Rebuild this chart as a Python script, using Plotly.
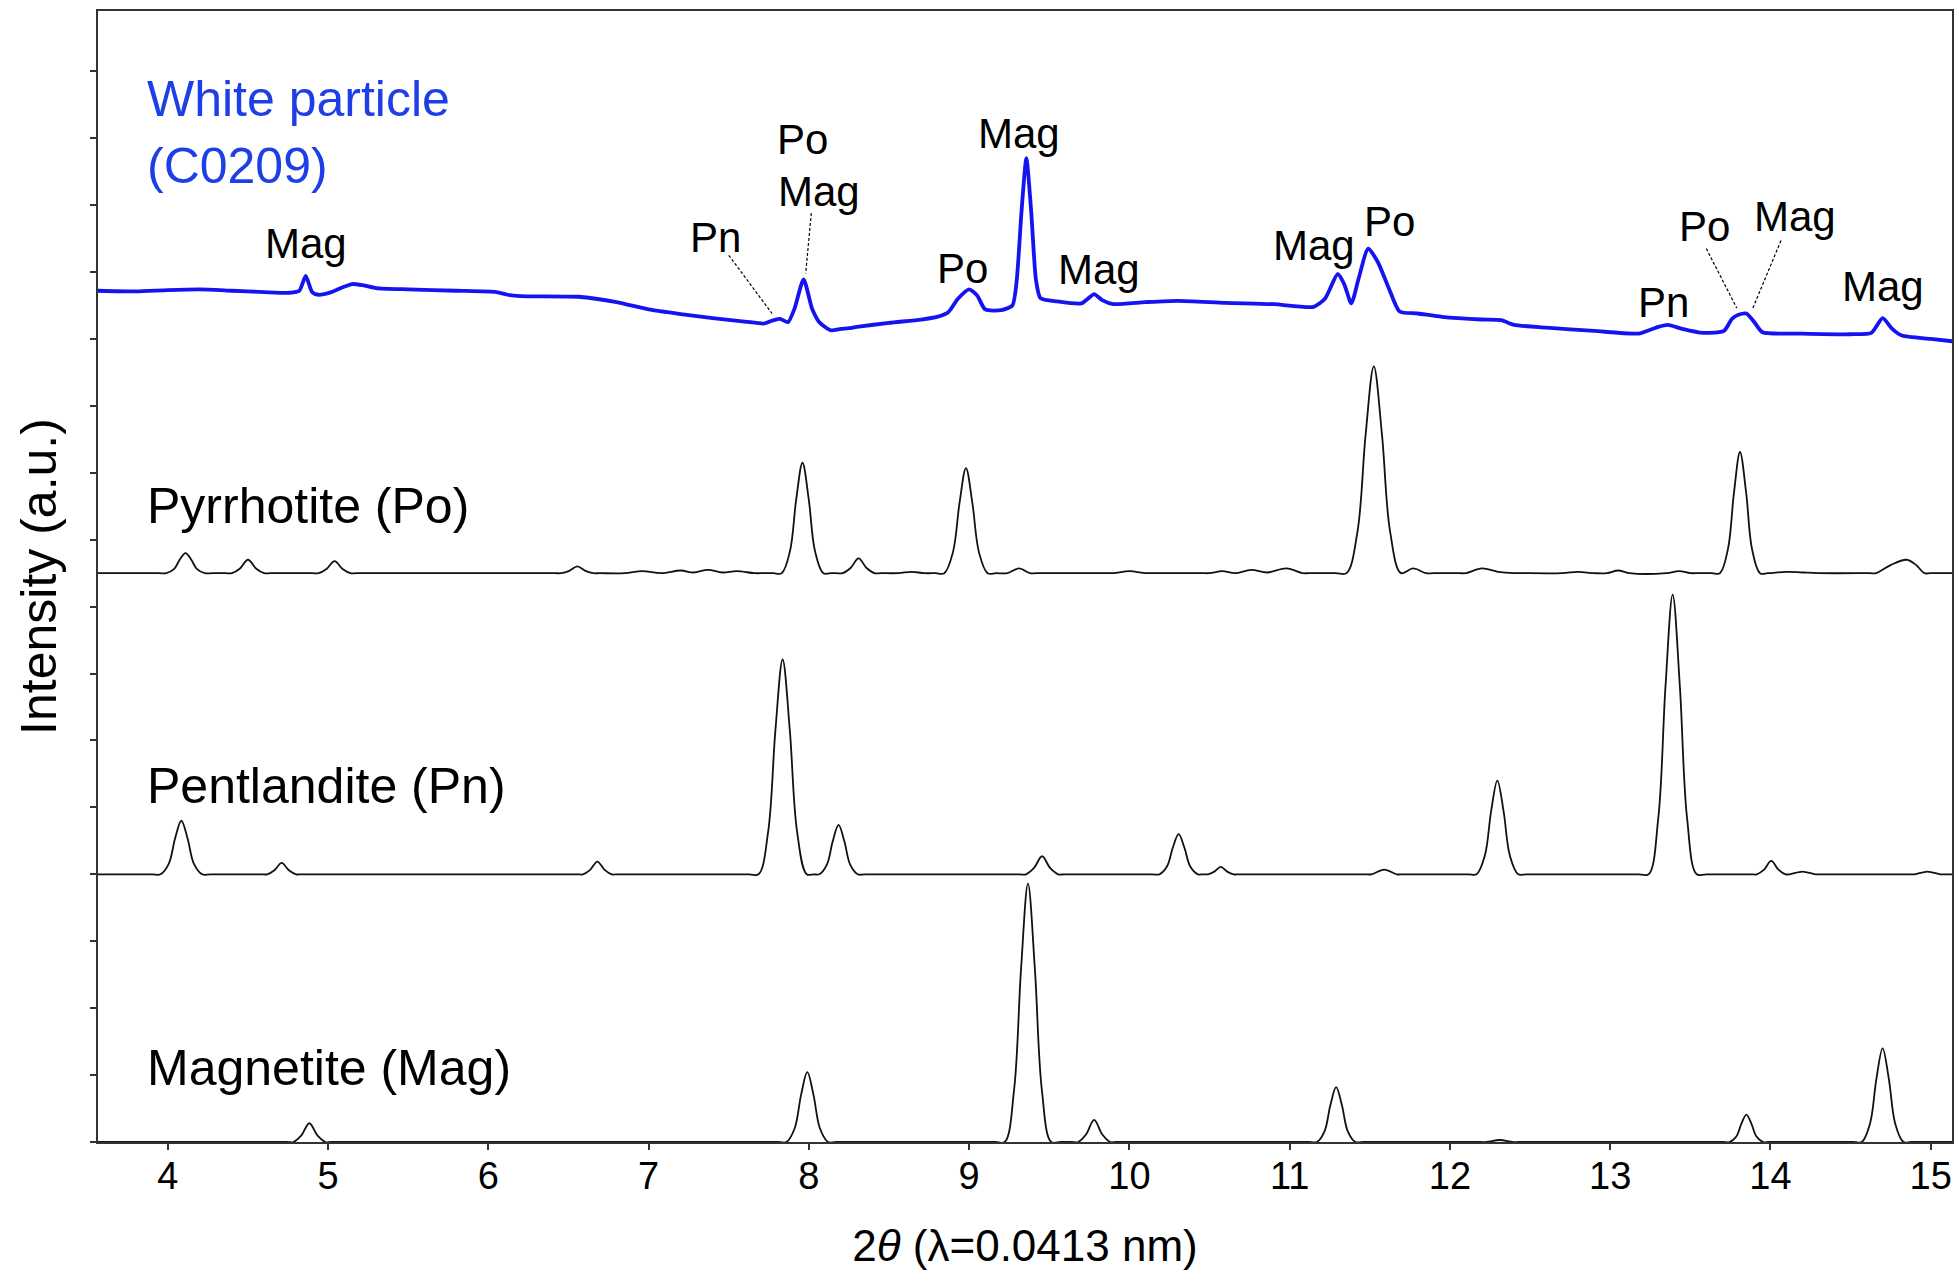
import plotly.graph_objects as go

# ---------------- data ----------------
# 2theta values and intensities (tick units above each pattern's own baseline)

white_x = [3.563, 3.8, 4.0, 4.2, 4.4, 4.6, 4.76, 4.82, 4.86, 4.90, 4.94, 5.02, 5.08, 5.15, 5.22, 5.3, 5.5, 5.8,
           6.05, 6.12, 6.2, 6.56, 6.8, 7.0, 7.2, 7.4, 7.6, 7.72, 7.78, 7.82, 7.87, 7.91, 7.967, 8.02, 8.065, 8.135,
           8.2, 8.25, 8.3, 8.5, 8.7, 8.8, 8.87, 8.93, 9.0, 9.05, 9.10, 9.2, 9.27, 9.297, 9.327, 9.357, 9.387, 9.417,
           9.445, 9.55, 9.70, 9.74, 9.78, 9.83, 9.9, 10.1, 10.3, 10.6, 10.9, 11.15, 11.22, 11.30, 11.34, 11.385,
           11.43, 11.49, 11.55, 11.62, 11.686, 11.8, 11.95, 12.2, 12.32, 12.4, 12.6, 12.9, 13.18, 13.3, 13.36,
           13.45, 13.58, 13.71, 13.76, 13.80, 13.85, 13.9, 13.95, 14.2, 14.5, 14.63, 14.70, 14.76, 14.82, 15.0,
           15.155]
white_y = [0.72, 0.71, 0.73, 0.74, 0.72, 0.70, 0.69, 0.72, 0.94, 0.70, 0.66, 0.70, 0.76, 0.82, 0.80, 0.76, 0.74,
           0.72, 0.70, 0.66, 0.64, 0.63, 0.55, 0.44, 0.37, 0.31, 0.26, 0.23, 0.28, 0.30, 0.25, 0.45, 0.89, 0.45,
           0.25, 0.13, 0.15, 0.16, 0.18, 0.24, 0.29, 0.33, 0.40, 0.60, 0.74, 0.65, 0.44, 0.43, 0.50, 0.88, 1.91,
           2.70, 1.91, 0.88, 0.61, 0.56, 0.53, 0.60, 0.67, 0.58, 0.52, 0.55, 0.57, 0.54, 0.52, 0.48, 0.60, 0.97,
           0.82, 0.53, 0.90, 1.35, 1.15, 0.75, 0.41, 0.38, 0.33, 0.29, 0.28, 0.21, 0.17, 0.12, 0.08, 0.18, 0.21,
           0.15, 0.09, 0.12, 0.30, 0.36, 0.38, 0.25, 0.10, 0.08, 0.07, 0.09, 0.31, 0.15, 0.05, 0.00, -0.04]

po_x = [3.563,
        3.942, 3.99, 4.038, 4.074, 4.11, 4.146, 4.182, 4.23, 4.278,
        4.36, 4.40, 4.45, 4.50, 4.55, 4.60, 4.64,
        4.90, 4.94, 4.99, 5.04, 5.09, 5.14, 5.18,
        6.415, 6.455, 6.505, 6.555, 6.605, 6.655, 6.695,
        6.85, 6.96, 7.08, 7.20, 7.28, 7.37, 7.46, 7.55, 7.66, 7.72,
        7.778, 7.83, 7.882, 7.921, 7.96, 7.999, 8.038, 8.09, 8.14,
        8.17, 8.21, 8.26, 8.31, 8.36, 8.41, 8.45,
        8.56, 8.64, 8.72,
        8.791, 8.845, 8.899, 8.94, 8.98, 9.02, 9.061, 9.115, 9.169,
        9.24, 9.31, 9.38, 9.42,
        9.86, 9.90, 10.0, 10.1, 10.14,
        10.46, 10.5, 10.58, 10.66, 10.76, 10.86, 10.98, 11.08, 11.12,
        11.287, 11.355, 11.423, 11.474, 11.525, 11.576, 11.627, 11.695,
        11.77, 11.85, 11.9,
        12.06, 12.1, 12.2, 12.3, 12.4, 12.44,
        12.7, 12.8, 12.9, 12.98, 13.05, 13.12, 13.35, 13.43, 13.5, 13.55,
        13.635, 13.685, 13.735, 13.773, 13.81, 13.848, 13.885, 13.935, 13.985,
        14.1, 14.2, 14.3, 14.62, 14.66, 14.75, 14.85, 14.91, 14.96, 15.0, 15.155]
po_y = [0,
        0, 0, 0.06, 0.20, 0.30, 0.20, 0.06, 0, 0,
        0, 0, 0.07, 0.20, 0.07, 0, 0,
        0, 0, 0.063, 0.18, 0.063, 0, 0,
        0, 0, 0.035, 0.10, 0.035, 0, 0,
        0, 0.03, 0, 0.04, 0.01, 0.05, 0.01, 0.03, 0, 0,
        0, 0, 0.33, 1.105, 1.65, 1.105, 0.33, 0, 0,
        0, 0, 0.077, 0.22, 0.077, 0, 0,
        0, 0.02, 0,
        0, 0, 0.314, 1.05, 1.57, 1.05, 0.314, 0, 0,
        0, 0.07, 0, 0,
        0, 0, 0.03, 0, 0,
        0, 0, 0.03, 0, 0.05, 0.01, 0.07, 0, 0,
        0, 0, 0.618, 2.07, 3.09, 2.07, 0.618, 0,
        0.07, 0, 0,
        0, 0, 0.07, 0.02, 0, 0,
        0, 0.02, 0, 0, 0.04, 0, 0, 0.03, 0, 0,
        0, 0, 0.362, 1.213, 1.81, 1.213, 0.362, 0, 0,
        0.02, 0.01, 0, 0, 0, 0.12, 0.20, 0.12, 0, 0, 0]

pn_x = [3.563,
        3.902, 3.954, 4.006, 4.045, 4.084, 4.123, 4.162, 4.214, 4.266,
        4.584, 4.62, 4.665, 4.71, 4.755, 4.80, 4.836,
        6.554, 6.59, 6.635, 6.68, 6.725, 6.77, 6.806,
        7.626, 7.686, 7.746, 7.791, 7.836, 7.881, 7.926, 7.986,
        8.03, 8.065, 8.113, 8.149, 8.185, 8.221, 8.257, 8.305, 8.353,
        9.315, 9.355, 9.405, 9.455, 9.505, 9.555, 9.595,
        10.139, 10.187, 10.235, 10.271, 10.307, 10.343, 10.379, 10.427,
        10.46, 10.49, 10.53, 10.57, 10.61, 10.65, 10.69,
        11.47, 11.51, 11.59, 11.67, 11.71,
        12.114, 12.166, 12.218, 12.257, 12.296, 12.335, 12.374, 12.426, 12.478,
        13.18, 13.24, 13.30, 13.345, 13.39, 13.435, 13.48, 13.54, 13.60,
        13.879, 13.915, 13.96, 14.005, 14.05, 14.095,
        14.12, 14.2, 14.28, 14.31,
        14.87, 14.9, 14.98, 15.06, 15.09, 15.155]
pn_y = [0,
        0, 0, 0.16, 0.536, 0.80, 0.536, 0.16, 0, 0,
        0, 0, 0.06, 0.17, 0.06, 0, 0,
        0, 0, 0.067, 0.19, 0.067, 0, 0,
        0, 0, 0.642, 2.15, 3.21, 2.15, 0.642, 0,
        0, 0, 0.148, 0.496, 0.74, 0.496, 0.148, 0, 0,
        0, 0, 0.095, 0.27, 0.095, 0, 0,
        0, 0, 0.12, 0.40, 0.60, 0.40, 0.12, 0,
        0, 0, 0.04, 0.11, 0.04, 0, 0,
        0, 0, 0.07, 0, 0,
        0, 0, 0.28, 0.94, 1.40, 0.94, 0.28, 0, 0,
        0, 0, 0.836, 2.80, 4.18, 2.80, 0.836, 0, 0,
        0, 0, 0.07, 0.20, 0.07, 0,
        0, 0.04, 0, 0,
        0, 0, 0.04, 0, 0, 0]

mag_x = [3.563,
         4.743, 4.783, 4.833, 4.883, 4.933, 4.983, 5.023,
         7.808, 7.86, 7.912, 7.951, 7.99, 8.029, 8.068, 8.12, 8.172,
         9.164, 9.222, 9.28, 9.324, 9.367, 9.41, 9.454, 9.512, 9.57,
         9.64, 9.68, 9.73, 9.78, 9.83, 9.88, 9.92,
         11.122, 11.17, 11.218, 11.254, 11.29, 11.326, 11.362, 11.41, 11.458,
         12.19, 12.23, 12.31, 12.39, 12.43,
         13.703, 13.745, 13.787, 13.819, 13.85, 13.881, 13.913, 13.955, 13.997,
         14.518, 14.57, 14.622, 14.661, 14.70, 14.739, 14.778, 14.83, 14.882,
         15.155]
mag_y = [0,
         0, 0, 0.098, 0.28, 0.098, 0, 0,
         0, 0, 0.21, 0.70, 1.045, 0.70, 0.21, 0, 0,
         0, 0, 0.77, 2.59, 3.86, 2.59, 0.77, 0, 0,
         0, 0, 0.115, 0.33, 0.115, 0, 0,
         0, 0, 0.164, 0.55, 0.82, 0.55, 0.164, 0, 0,
         0, 0, 0.03, 0, 0,
         0, 0, 0.082, 0.275, 0.41, 0.275, 0.082, 0, 0,
         0, 0, 0.28, 0.94, 1.40, 0.94, 0.28, 0, 0,
         0]

# vertical stacking offsets of each pattern (tick units)
offsets = {"white": 12.0, "po": 8.5, "pn": 4.0, "mag": 0.0}

# peak labels on the measured pattern: text, 2theta, height
peak_text = ["Mag", "Pn", "Po", "Mag", "Po", "Mag", "Mag", "Mag", "Po", "Pn", "Po", "Mag", "Mag"]
peak_lx = [4.86, 7.42, 7.96, 8.06, 8.96, 9.31, 9.81, 11.15, 11.625, 13.33, 13.59, 14.155, 14.70]
peak_ly = [13.42, 13.51, 14.98, 14.21, 13.05, 15.07, 13.03, 13.39, 13.75, 12.55, 13.68, 13.83, 12.78]

# dashed leader lines: (x0, y0, x1, y1)
leaders = [(7.50, 13.25, 7.77, 12.38),
           (8.015, 13.88, 7.98, 12.98),
           (13.60, 13.35, 13.79, 12.46),
           (14.066, 13.47, 13.89, 12.46)]

# pattern names
pattern_text = ["White particle", "(C0209)", "Pyrrhotite (Po)", "Pentlandite (Pn)", "Magnetite (Mag)"]
pattern_ly = [15.58, 14.59, 9.51, 5.32, 1.10]
pattern_color = ["#1f3fe6", "#1f3fe6", "#000000", "#000000", "#000000"]
pattern_lx = 3.855

x_ticks = list(range(4, 16))
x_range = [3.564, 15.133]
y_range = [0, 16.9]

# ---------------- figure ----------------
FONT = "Liberation Sans, Arial, sans-serif"
fig = go.Figure()

fig.add_trace(go.Scatter(
    x=white_x, y=[offsets["white"] + v for v in white_y], mode="lines",
    line=dict(color="#1414f0", width=3.8, shape="spline", smoothing=0.6),
    hoverinfo="skip"))

for xs, ys, key in [(po_x, po_y, "po"), (pn_x, pn_y, "pn"), (mag_x, mag_y, "mag")]:
    fig.add_trace(go.Scatter(
        x=xs, y=[offsets[key] + v for v in ys], mode="lines",
        line=dict(color="#111111", width=1.8, shape="spline", smoothing=1.0),
        hoverinfo="skip"))

annotations = []
for t, x, y in zip(peak_text, peak_lx, peak_ly):
    annotations.append(dict(x=x, y=y, xref="x", yref="y", text=t, showarrow=False,
                            xanchor="center", yanchor="middle",
                            font=dict(family=FONT, size=42, color="#000000")))
for t, y, c in zip(pattern_text, pattern_ly, pattern_color):
    annotations.append(dict(x=pattern_lx, y=y, xref="x", yref="y", text=t, showarrow=False,
                            xanchor="left", yanchor="middle",
                            font=dict(family=FONT, size=50, color=c)))

shapes = []
for x0, y0, x1, y1 in leaders:
    shapes.append(dict(type="line", xref="x", yref="y", x0=x0, y0=y0, x1=x1, y1=y1,
                       line=dict(color="#000000", width=1.2, dash="3px,2px")))

fig.update_layout(
    width=1959, height=1281,
    margin=dict(l=98, r=7, t=11, b=139),
    plot_bgcolor="white", paper_bgcolor="white",
    showlegend=False,
    annotations=annotations,
    shapes=shapes,
    font=dict(family=FONT, color="#000000"),
)

fig.update_xaxes(
    range=x_range, tickmode="array", tickvals=x_ticks, ticktext=[str(v) for v in x_ticks],
    ticks="outside", ticklen=6, tickwidth=1.5, tickcolor="#333333",
    showline=True, linecolor="#333333", linewidth=1.6, mirror=True,
    showgrid=False, zeroline=False,
    tickfont=dict(family=FONT, size=38, color="#000000"),
    ticklabelstandoff=-6,
    title=dict(text="2<i>θ</i> (λ=0.0413 nm)", font=dict(family=FONT, size=44, color="#000000"),
               standoff=34),
    automargin=False,
)
fig.update_yaxes(
    range=y_range, tickmode="linear", tick0=0, dtick=1,
    ticks="outside", ticklen=6, tickwidth=1.5, tickcolor="#333333",
    showticklabels=False,
    showline=True, linecolor="#333333", linewidth=1.6, mirror=True,
    showgrid=False, zeroline=False,
    title=dict(text="Intensity (a.u.)", font=dict(family=FONT, size=50, color="#000000"),
               standoff=18),
    automargin=False,
)

fig.write_html("out.html",
               config={"displayModeBar": False},
               post_script="document.body.style.margin='0px';document.body.style.overflow='hidden';")
